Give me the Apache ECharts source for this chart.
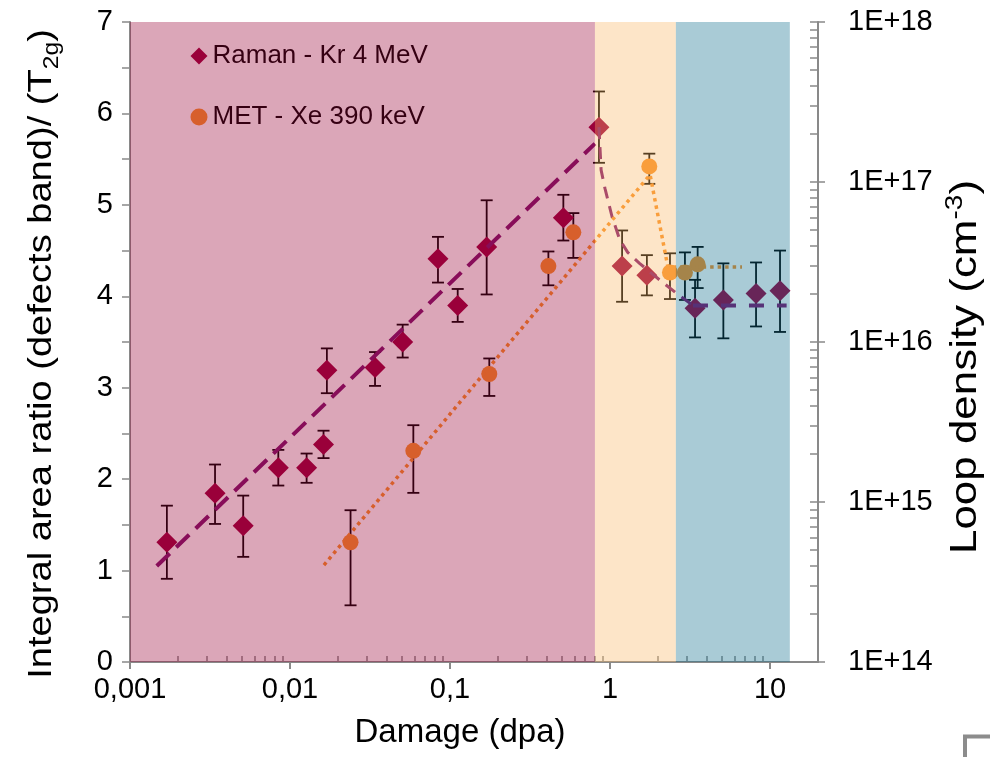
<!DOCTYPE html>
<html><head><meta charset="utf-8">
<script src="https://cdn.jsdelivr.net/npm/echarts@6/dist/echarts.min.js"></script>
<style>html,body{margin:0;padding:0;background:#fff}#c{width:990px;height:757px}</style>
</head><body><div id="c"></div>
<script>
// ---- Raman - Kr 4 MeV (diamonds) ----
const ramanX  = [0.0017, 0.0034, 0.0051, 0.00845, 0.0127, 0.0162, 0.0170, 0.034, 0.0506, 0.0841, 0.1117, 0.1695, 0.511, 0.853, 1.19, 1.70, 3.40, 5.11, 8.18, 11.55];
const ramanY  = [1.31, 1.845, 1.49, 2.125, 2.125, 2.38, 3.19, 3.22, 3.50, 4.41, 3.90, 4.54, 4.86, 5.85, 4.33, 4.23, 3.87, 3.96, 4.03, 4.06];
const ramanLo = [0.91, 1.51, 1.15, 1.93, 1.96, 2.23, 2.94, 3.02, 3.33, 4.15, 3.72, 4.02, 4.61, 5.46, 3.94, 4.01, 3.55, 3.54, 3.67, 3.61];
const ramanHi = [1.71, 2.16, 1.82, 2.32, 2.28, 2.53, 3.43, 3.39, 3.69, 4.65, 4.08, 5.05, 5.11, 6.24, 4.72, 4.45, 4.18, 4.36, 4.37, 4.50];

// ---- MET - Xe 390 keV (circles) ----
const metX  = [0.0239, 0.059, 0.176, 0.412, 0.59, 1.76, 2.37, 2.94, 3.53];
const metY  = [1.31, 2.31, 3.15, 4.33, 4.70, 5.42, 4.26, 4.26, 4.35];
const metLo = [0.62, 1.85, 2.91, 4.12, 4.42, 5.23, 3.97, 3.96, 4.09];
const metHi = [1.66, 2.59, 3.32, 4.49, 4.91, 5.56, 4.47, 4.48, 4.54];

// ---- trend lines ----
const ramanFit   = [[0.00147, 1.05], [0.805, 5.67]];
const ramanDecay = [[0.853, 5.85], [0.88, 5.38], [0.93, 5.18], [1.03, 4.87], [1.15, 4.62], [1.29, 4.48], [1.53, 4.36], [2.04, 4.18], [2.57, 4.04], [3.3, 3.9]];
const ramanFlat  = [[3.3, 3.9], [12.7, 3.9]];
const metTrend   = [[0.0163, 1.06], [1.78, 5.33], [2.30, 4.32], [6.68, 4.32]];

// ---- damage regimes (shaded bands) ----
const bandEdges  = [0.001, 0.805, 2.58, 13.3];
const bandColors = ['rgba(153,0,51,0.35)', 'rgba(249,181,98,0.35)', 'rgba(9,106,138,0.35)'];

// ---- ticks ----
const xTickValues = [0.001, 0.01, 0.1, 1, 10];
const xTickLabels = ['0,001', '0,01', '0,1', '1', '10'];
const xMinorTicks = [0.002,0.003,0.004,0.005,0.006,0.007,0.008,0.009,
                     0.02,0.03,0.04,0.05,0.06,0.07,0.08,0.09,
                     0.2,0.3,0.4,0.5,0.6,0.7,0.8,0.9,
                     2,3,4,5,6,7,8,9];
const leftTickLabels = ['0','1','2','3','4','5','6','7'];
const rightTickValues = [1e14, 1e15, 1e16, 1e17, 1e18];
const rightTickLabels = ['1E+14', '1E+15', '1E+16', '1E+17', '1E+18'];
const rightMinorTicks = [];
[14, 15, 16, 17].forEach(e => { for (let k = 1; k <= 9; k++) rightMinorTicks.push(k * Math.pow(10, e)); });
rightMinorTicks.push(1e18);

const seriesNames = ['Raman - Kr 4 MeV', 'MET - Xe 390 keV'];
const FONT = '"Liberation Sans", Arial, sans-serif';
const AX = '#898989';
const diamondColor = '#9c003e';
const circleColor = '#f99228';
const RMAX = 1e18 * 1.000001;

function findLabel(values, labels, v) {
  const lv = Math.log10(v);
  for (let i = 0; i < values.length; i++) if (Math.abs(Math.log10(values[i]) - lv) < 1e-4) return labels[i];
  return '';
}

function errRender(params, api) {
  const x = api.value(0), lo = api.value(2), hi = api.value(3);
  const t = api.coord([x, hi]), b = api.coord([x, lo]);
  const hw = 6;
  const st = { stroke: '#000', lineWidth: 1.8 };
  return { type: 'group', children: [
    { type: 'line', shape: { x1: t[0], y1: t[1], x2: b[0], y2: b[1] }, style: st },
    { type: 'line', shape: { x1: t[0] - hw, y1: t[1], x2: t[0] + hw, y2: t[1] }, style: st },
    { type: 'line', shape: { x1: b[0] - hw, y1: b[1], x2: b[0] + hw, y2: b[1] }, style: st }
  ]};
}
function bandRender(params, api) {
  const x0 = api.value(0), x1 = api.value(1), idx = api.value(2);
  const p0 = api.coord([x0, 7]), p1 = api.coord([x1, 0]);
  return { type: 'rect', shape: { x: p0[0], y: p0[1], width: p1[0] - p0[0], height: p1[1] - p0[1] },
           style: { fill: bandColors[idx] } };
}

const bandData = [];
for (let i = 0; i < bandEdges.length - 1; i++) bandData.push([bandEdges[i], bandEdges[i + 1], i]);

const chart = echarts.init(document.getElementById('c'), null, { renderer: 'canvas' });
chart.setOption({
  animation: false,
  backgroundColor: '#fff',
  textStyle: { fontFamily: FONT },
  grid: { left: 130, right: 172, top: 22, bottom: 95, containLabel: false },
  legend: {
    data: [{ name: seriesNames[0], icon: 'diamond' }, { name: seriesNames[1], icon: 'circle' }],
    orient: 'vertical', left: 185.5, top: 38, itemWidth: 17, itemHeight: 17, itemGap: 35,
    textStyle: { fontSize: 26, color: '#000', fontFamily: FONT, lineHeight: 26 }, z: 4
  },
  xAxis: [
    { type: 'log', logBase: 10, min: 0.001, max: 19.95, position: 'bottom',
      axisLine: { show: true, onZero: false, lineStyle: { color: AX, width: 2 } },
      axisTick: { show: true, length: 7, customValues: xTickValues, lineStyle: { color: AX, width: 2 } },
      axisLabel: { customValues: xTickValues, formatter: v => findLabel(xTickValues, xTickLabels, v),
                   fontSize: 29, color: '#000', margin: 13, fontFamily: FONT },
      splitLine: { show: false }, minorTick: { show: false } },
    { type: 'log', logBase: 10, min: 0.001, max: 19.95, position: 'bottom',
      axisLine: { show: false, onZero: false },
      axisTick: { show: true, inside: true, length: 6, customValues: xMinorTicks, lineStyle: { color: AX, width: 1.5 } },
      axisLabel: { show: false }, splitLine: { show: false } }
  ],
  yAxis: [
    { type: 'value', min: 0, max: 7, interval: 0.5, position: 'left',
      axisLine: { show: true, onZero: false, lineStyle: { color: AX, width: 2 } },
      axisTick: { show: true, length: 8, lineStyle: { color: AX, width: 1.5 } },
      axisLabel: { formatter: v => (Math.abs(v - Math.round(v)) < 1e-9 ? leftTickLabels[Math.round(v)] : ''),
                   fontSize: 29, color: '#000', margin: 17, fontFamily: FONT },
      splitLine: { show: false } },
    { type: 'log', logBase: 10, min: 1e14, max: RMAX, position: 'right',
      axisLine: { show: true, onZero: false, lineStyle: { color: AX, width: 2 } },
      axisTick: { show: true, length: 7, customValues: rightTickValues, lineStyle: { color: AX, width: 1.5 } },
      axisLabel: { customValues: rightTickValues, formatter: v => findLabel(rightTickValues, rightTickLabels, v),
                   fontSize: 29, color: '#000', margin: 30, fontFamily: FONT, showMaxLabel: true, showMinLabel: true },
      splitLine: { show: false } },
    { type: 'log', logBase: 10, min: 1e14, max: RMAX, position: 'right',
      axisLine: { show: false, onZero: false },
      axisTick: { show: true, inside: true, length: 8, customValues: rightMinorTicks, lineStyle: { color: AX, width: 1.5 } },
      axisLabel: { show: false }, splitLine: { show: false } }
  ],
  series: [
    { type: 'custom', name: 'ramanErr', renderItem: errRender, z: 3, silent: true,
      encode: { x: 0, y: [1, 2, 3] },
      data: ramanX.map((x, i) => [x, ramanY[i], ramanLo[i], ramanHi[i]]) },
    { type: 'custom', name: 'metErr', renderItem: errRender, z: 3, silent: true,
      encode: { x: 0, y: [1, 2, 3] },
      data: metX.map((x, i) => [x, metY[i], metLo[i], metHi[i]]) },
    { type: 'scatter', name: seriesNames[0], symbol: 'diamond', symbolSize: 21, z: 4,
      itemStyle: { color: diamondColor, opacity: 1 },
      data: ramanX.map((x, i) => [x, ramanY[i]]) },
    { type: 'scatter', name: seriesNames[1], symbol: 'circle', symbolSize: 16, z: 4,
      itemStyle: { color: circleColor, opacity: 1 },
      data: metX.map((x, i) => [x, metY[i]]) },
    { type: 'line', name: 'ramanFit', data: ramanFit, symbol: 'none', z: 5, silent: true,
      lineStyle: { color: '#80146e', width: 4, type: [18, 9] } },
    { type: 'line', name: 'ramanDecay', data: ramanDecay, symbol: 'none', z: 5, silent: true,
      lineStyle: { color: '#80146e', width: 3, type: [12, 8] } },
    { type: 'line', name: 'ramanFlat', data: ramanFlat, symbol: 'none', z: 5, silent: true,
      lineStyle: { color: '#80146e', width: 4, type: [15, 13] } },
    { type: 'line', name: 'metTrend', data: metTrend, symbol: 'none', z: 5, silent: true,
      lineStyle: { color: circleColor, width: 3.5, type: [3.5, 4], cap: 'butt' } },
    { type: 'custom', name: 'bands', renderItem: bandRender, z: 10, silent: true,
      encode: { x: [0, 1], y: 2 }, data: bandData }
  ],
  graphic: [
    { type: 'text', x: 460, y: 733, z: 20,
      style: { text: 'Damage (dpa)', font: '33px ' + FONT, fill: '#000', align: 'center', verticalAlign: 'middle' } },
    { type: 'text', x: 42, y: 354, rotation: Math.PI / 2, scaleX: 1.12, z: 20,
      style: { text: '{m|Integral area ratio (defects band)/ (T}{s|2g}{m|)}', align: 'center', verticalAlign: 'middle',
        rich: { m: { fontSize: 34, fontFamily: FONT, fill: '#000', lineHeight: 42, verticalAlign: 'middle' },
                s: { fontSize: 22, fontFamily: FONT, fill: '#000', lineHeight: 22, verticalAlign: 'bottom' } } } },
    { type: 'text', x: 966, y: 367, rotation: Math.PI / 2, scaleX: 1.22, z: 20,
      style: { text: '{m|Loop density (cm}{s|-3}{m|)}', align: 'center', verticalAlign: 'middle',
        rich: { m: { fontSize: 36, fontFamily: FONT, fill: '#000', lineHeight: 44, verticalAlign: 'middle' },
                s: { fontSize: 23, fontFamily: FONT, fill: '#000', lineHeight: 23, verticalAlign: 'top' } } } },
    { type: 'polyline', z: 20, shape: { points: [[965, 757], [965, 736.5], [990, 736.5]] },
      style: { stroke: '#8c8c8c', lineWidth: 4, fill: null } }
  ]
});
</script>
</body></html>
